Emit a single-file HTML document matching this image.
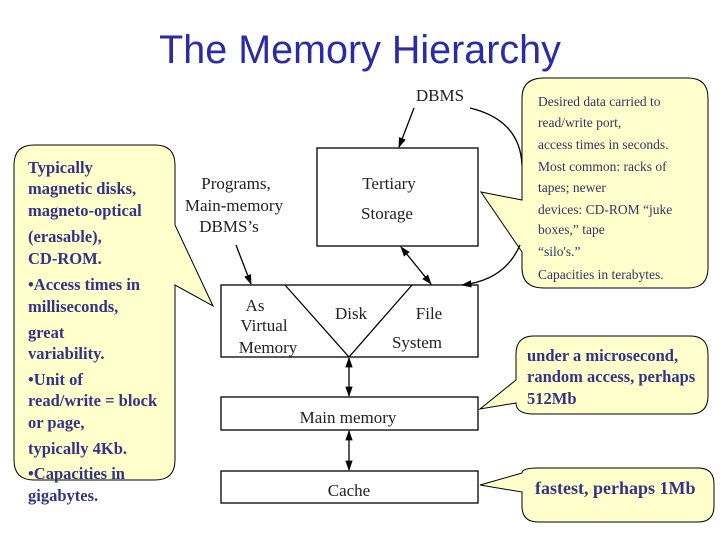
<!DOCTYPE html>
<html><head><meta charset="utf-8"><style>
html,body{margin:0;padding:0;background:#fff;}
body{width:720px;height:540px;position:relative;overflow:hidden;font-family:"Liberation Serif",serif;}
</style></head><body>
<svg width="720" height="540" style="position:absolute;left:0;top:0">
<defs><marker id="a" viewBox="0 0 10 10" refX="9" refY="5" markerWidth="8" markerHeight="8" orient="auto-start-reverse"><path d="M0,1.5 L10,5 L0,8.5 z" fill="#000"/></marker></defs>
<text x="360" y="63" text-anchor="middle" font-family="Liberation Sans, sans-serif" font-size="39.5" fill="#2b2ba8">The Memory Hierarchy</text>
<g fill="#ffffcc" stroke="#000" stroke-width="1">
<path d="M34,145 H155 Q175,145 175,165 V225 L213,306 L175,285 V460 Q175,480 155,480 H34 Q14,480 14,460 V165 Q14,145 34,145 Z"/>
<path d="M544,78 H688 Q708,78 708,98 V268 Q708,288 688,288 H544 Q522,288 522,268 V252 L481,192 L522,200 V98 Q522,78 544,78 Z"/>
<path d="M534,336 H690 Q708,336 708,354 V396 Q708,414 690,414 H534 Q516,414 516,403 L480,409 L516,380 V354 Q516,336 534,336 Z"/>
<path d="M538,468 H698 Q714,468 714,484 V506 Q714,522 698,522 H538 Q522,522 522,506 V492 L480,485 L522,473 Q522,468 538,468 Z"/>
</g>
<g fill="none" stroke="#000" stroke-width="1.3">
<rect x="317" y="148" width="161" height="98"/>
<rect x="221" y="285" width="257" height="72"/>
<rect x="221" y="397" width="257" height="33"/>
<rect x="221" y="471" width="257" height="32"/>
<path d="M285,285 L349,357 L412,285"/>
<line x1="414" y1="108" x2="399" y2="147" marker-end="url(#a)"/>
<line x1="236" y1="245" x2="251" y2="284" marker-end="url(#a)"/>
<line x1="401" y1="247" x2="431" y2="284" marker-start="url(#a)" marker-end="url(#a)"/>
<line x1="349" y1="358" x2="349" y2="396" marker-start="url(#a)" marker-end="url(#a)"/>
<line x1="349" y1="431" x2="349" y2="470" marker-start="url(#a)" marker-end="url(#a)"/>
<path d="M470,108 Q520,120 522,165" />
<path d="M520,245 Q505,280 462,285" marker-end="url(#a)"/>
</g>
<g font-family="Liberation Serif, serif" font-size="17" fill="#222" text-anchor="middle">
<text x="440" y="101">DBMS</text>
<text x="389" y="189">Tertiary</text>
<text x="387" y="219">Storage</text>
<text x="236" y="189">Programs,</text>
<text x="234" y="211">Main-memory</text>
<text x="229" y="232">DBMS’s</text>
<text x="255" y="311">As</text>
<text x="264" y="331">Virtual</text>
<text x="268" y="353">Memory</text>
<text x="351" y="319">Disk</text>
<text x="429" y="319">File</text>
<text x="417" y="348">System</text>
<text x="348" y="423">Main memory</text>
<text x="349" y="496">Cache</text>
</g>
<g font-family="Liberation Serif, serif" font-size="16.5" font-weight="bold" fill="#333388">
<text x="28" y="173">Typically</text>
<text x="28" y="194">magnetic disks,</text>
<text x="28" y="216">magneto-optical</text>
<text x="28" y="242">(erasable),</text>
<text x="28" y="264">CD-ROM.</text>
<text x="28" y="290">•Access times in</text>
<text x="28" y="312">milliseconds,</text>
<text x="28" y="338">great</text>
<text x="28" y="359">variability.</text>
<text x="28" y="385">•Unit of</text>
<text x="28" y="406">read/write = block</text>
<text x="28" y="428">or page,</text>
<text x="28" y="454">typically 4Kb.</text>
<text x="28" y="479">•Capacities in</text>
<text x="28" y="501">gigabytes.</text>
<text x="527" y="361">under a microsecond,</text>
<text x="527" y="382">random access, perhaps</text>
<text x="527" y="404">512Mb</text>
<text x="535" y="494" font-size="18">fastest, perhaps 1Mb</text>
</g>
<g font-family="Liberation Serif, serif" font-size="13.5" fill="#333366">
<text x="538" y="106">Desired data carried to</text>
<text x="538" y="127">read/write port,</text>
<text x="538" y="149">access times in seconds.</text>
<text x="538" y="171">Most common: racks of</text>
<text x="538" y="192">tapes; newer</text>
<text x="538" y="214">devices: CD-ROM “juke</text>
<text x="538" y="234">boxes,” tape</text>
<text x="538" y="256">“silo's.”</text>
<text x="538" y="279">Capacities in terabytes.</text>
</g>
</svg>
</body></html>
